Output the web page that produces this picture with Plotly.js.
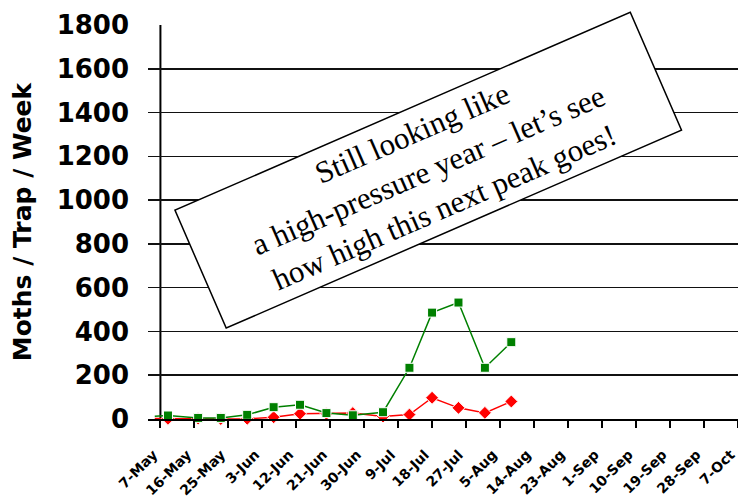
<!DOCTYPE html>
<html>
<head>
<meta charset="utf-8">
<script src="https://cdn.plot.ly/plotly-3.0.1.min.js"></script>
<style>
html,body{margin:0;padding:0;background:#fff;}
#chart{width:738px;height:497px;}
</style>
</head>
<body>
<div id="chart"></div>
<script>
// Sample dates (trap checks)
var sampleDates = ['2000-05-05 12:00','2000-05-09','2000-05-17','2000-05-23','2000-05-30','2000-06-06','2000-06-13','2000-06-20','2000-06-27','2000-07-05','2000-07-12','2000-07-18','2000-07-25','2000-08-01','2000-08-08'];
var greenCounts = [12, 16, 5, 5, 19, 54, 65, 27, 17, 31, 234, 486, 532, 234, 351];
var redCounts   = [2, 1, 2, 0, 1, 8, 24, 24, 27, 11, 20, 97, 51, 28, 80];
// x tick positions and labels
var tickDates  = ['2000-05-07','2000-05-16','2000-05-25','2000-06-03','2000-06-12','2000-06-21','2000-06-30','2000-07-09','2000-07-18','2000-07-27','2000-08-05','2000-08-14','2000-08-23','2000-09-01','2000-09-10','2000-09-19','2000-09-28','2000-10-07'];
var tickLabels = ['7-May','16-May','25-May','3-Jun','12-Jun','21-Jun','30-Jun','9-Jul','18-Jul','27-Jul','5-Aug','14-Aug','23-Aug','1-Sep','10-Sep','19-Sep','28-Sep','7-Oct'];
var yTicks = [0,200,400,600,800,1000,1200,1400,1600,1800];

var markerSizesSq = sampleDates.map(function(d,i){return i===0?0:9;});
var markerSizesDi = sampleDates.map(function(d,i){return i===0?0:10;});

var traces = [
  {x: sampleDates, y: redCounts, type:'scatter', mode:'lines+markers',
   line:{color:'#ff0000', width:1.5},
   marker:{symbol:'diamond', color:'#ff0000', size:markerSizesDi, opacity:1},
   cliponaxis:false, showlegend:false, hoverinfo:'x+y'},
  {x: sampleDates, y: greenCounts, type:'scatter', mode:'lines+markers',
   line:{color:'#008000', width:1.5},
   marker:{symbol:'square', color:'#008000', size:markerSizesSq, opacity:1},
   cliponaxis:false, showlegend:false, hoverinfo:'x+y'}
];

var layout = {
  width:738, height:497,
  margin:{l:148, r:0, t:25, b:78},
  paper_bgcolor:'#fff', plot_bgcolor:'#fff',
  showlegend:false,
  font:{family:'DejaVu Sans', color:'#000'},
  xaxis:{
    type:'date',
    range:['2000-05-03 17:00','2000-10-07 02:00'],
    tickmode:'array', tickvals:tickDates, ticktext:tickLabels,
    tickangle:-45,
    tickfont:{family:'DejaVu Sans', size:14, color:'#000', weight:'bold'},
    ticks:'outside', ticklen:7, tickwidth:2, tickcolor:'#000',
    ticklabelstandoff:13, ticklabelshift:-7, ticklabeloverflow:'allow',
    showline:true, linecolor:'#000', linewidth:2,
    showgrid:false, zeroline:false, fixedrange:true
  },
  yaxis:{
    range:[0,1800],
    tickmode:'array', tickvals:yTicks,
    tickfont:{family:'DejaVu Sans', size:26, color:'#000', weight:'bold'},
    ticks:'', ticklabelstandoff:18,
    showgrid:true, gridcolor:'#111', gridwidth:1.5,
    showline:false, zeroline:false, fixedrange:true,
    title:{text:'Moths / Trap / Week', font:{family:'DejaVu Sans', size:25, color:'#000', weight:'bold'}, standoff:17}
  },
  shapes:[
    {type:'line', xref:'x', yref:'y', x0:'2000-05-07', x1:'2000-05-07', y0:0, y1:1800,
     line:{color:'#000', width:2}, layer:'below'}
  ],
  annotations:[
    {xref:'paper', yref:'paper', x:0.4754, y:0.6332, xanchor:'center', yanchor:'middle',
     text:'Still looking like<br>a high-pressure year \u2013 let\u2019s see<br>how high this next peak goes!',
     showarrow:false, textangle:-23.5,
     font:{family:'Liberation Serif', size:31, color:'#000'},
     bgcolor:'#fff', bordercolor:'#000', borderwidth:1.5, borderpad:1,
     width:493, height:125, align:'center'}
  ]
};

Plotly.newPlot('chart', traces, layout, {displayModeBar:false, staticPlot:true});
</script>
</body>
</html>
